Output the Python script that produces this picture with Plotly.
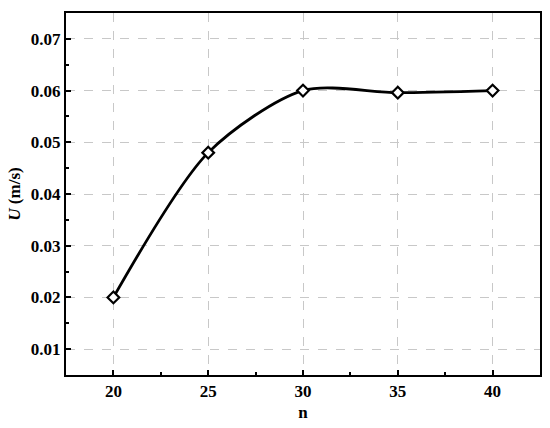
import plotly.graph_objects as go

# data
n_values = [20, 25, 30, 35, 40]
u_values = [0.020, 0.048, 0.060, 0.0596, 0.060]

font = "Liberation Serif, Times New Roman, serif"

fig = go.Figure()
fig.add_trace(go.Scatter(
    x=n_values, y=u_values, mode="lines+markers",
    line=dict(color="black", width=2.8, shape="spline", smoothing=0.8),
    marker=dict(symbol="diamond", size=9, color="white", line=dict(width=2.2, color="black")),
    showlegend=False,
))

axis_common = dict(
    showline=True, linecolor="black", linewidth=2, mirror=True,
    ticks="inside", ticklen=5, tickwidth=2, tickcolor="black",
    showgrid=True, gridcolor="#c8c8c8", griddash="dash", gridwidth=1,
    zeroline=False, automargin=False,
    tickfont=dict(family=font, size=17, color="black", weight="bold"),
)

fig.update_xaxes(
    range=[17.5, 42.5], tickvals=n_values,
    minor=dict(ticks="inside", ticklen=3, tickwidth=2, tickcolor="black", dtick=2.5, tick0=17.5, showgrid=False),
    title=dict(text="<b>n</b>", font=dict(family=font, size=17, color="black"), standoff=6),
    **axis_common,
)
fig.update_yaxes(
    range=[0.005, 0.075], dtick=0.01, tick0=0.01, tickformat=".2f",
    minor=dict(ticks="inside", ticklen=3, tickwidth=2, tickcolor="black", dtick=0.005, showgrid=False),
    title=dict(text="<b><i>U</i> (m/s)</b>", font=dict(family=font, size=17, color="black"), standoff=6),
    **axis_common,
)

fig.update_layout(
    width=550, height=428,
    margin=dict(l=66, r=10, t=13, b=53),
    plot_bgcolor="white", paper_bgcolor="white",
)

# drop the page's default body margin so the figure sits at the window corner
fig.write_html("out.html", config={"displayModeBar": False},
               post_script="document.body.style.margin='0px';")
